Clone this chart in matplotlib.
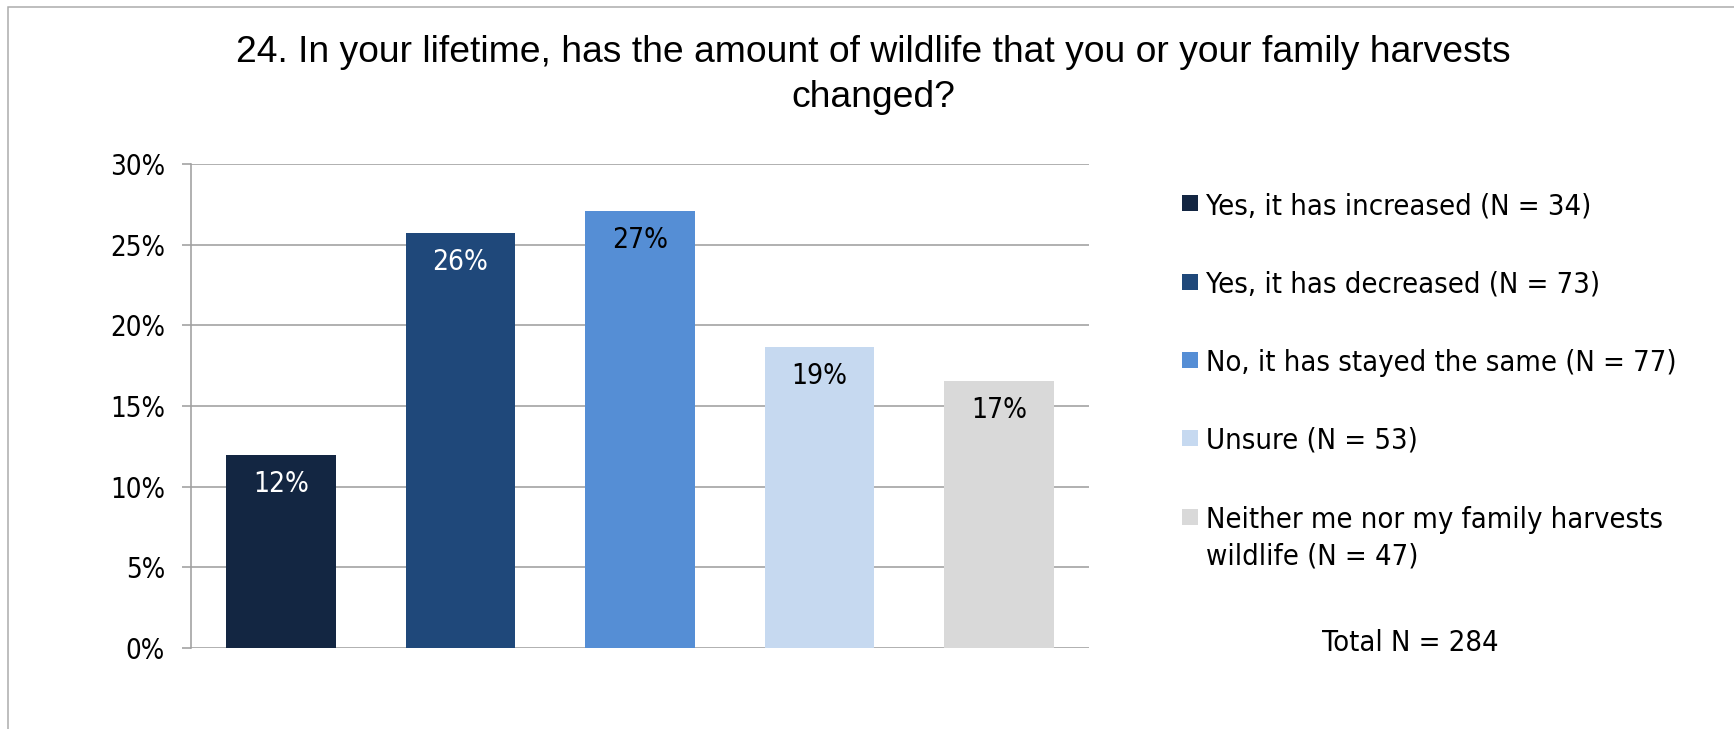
import matplotlib
matplotlib.use("Agg")
import matplotlib.pyplot as plt
from matplotlib.patches import Rectangle
from matplotlib.ticker import PercentFormatter

# Survey responses
categories = [
    "Yes, it has increased",
    "Yes, it has decreased",
    "No, it has stayed the same",
    "Unsure",
    "Neither me nor my family harvests\nwildlife",
]
counts = [34, 73, 77, 53, 47]
total_n = 284
shares = [c / total_n for c in counts]
colors = ["#132642", "#1F487A", "#558ED5", "#C6D9F0", "#D9D9D9"]
label_colors = ["white", "white", "black", "black", "black"]
yticks = [0, 0.05, 0.10, 0.15, 0.20, 0.25, 0.30]

W, H = 1734, 729
DPI = 100
PX = 72 / DPI  # points per pixel

label_font = dict(family="DejaVu Sans", stretch="condensed")
title_font = dict(family="Liberation Sans")

fig = plt.figure(figsize=(W / DPI, H / DPI), dpi=DPI)
fig.patch.set_facecolor("white")

# Outer chart frame (runs past the right and bottom edges)
fig.patches.append(Rectangle((8 / W, -0.1), 1.2, 1 - 7 / H + 0.1,
                             transform=fig.transFigure, fill=False,
                             edgecolor="#ABABAB", linewidth=1.5 * PX))

ax = fig.add_axes([191 / W, 81 / H, 898 / W, 484 / H])
x = list(range(len(counts)))
ax.bar(x, shares, width=0.611, color=colors, zorder=3)
ax.set_xlim(-0.5, len(counts) - 0.5)
ax.set_ylim(0, 0.30)
ax.set_yticks(yticks)
ax.yaxis.set_major_formatter(PercentFormatter(1.0, decimals=0))
ax.set_xticks([])
ax.grid(axis="y", color="#A0A0A0", linewidth=1.6 * PX, zorder=0)
for side in ["top", "right", "bottom"]:
    ax.spines[side].set_visible(False)
ax.spines["left"].set_color("#A0A0A0")
ax.spines["left"].set_linewidth(1.6 * PX)
ax.tick_params(axis="y", length=9 * PX, width=1.6 * PX, color="#A0A0A0",
               pad=17 * PX, labelsize=27.5 * PX, labelcolor="black")
for lbl in ax.get_yticklabels():
    lbl.set_family("DejaVu Sans")
    lbl.set_stretch("condensed")

for xi, v, tc in zip(x, shares, label_colors):
    ax.annotate(f"{v:.0%}", xy=(xi, v), xytext=(0, -29 * PX),
                textcoords="offset points", ha="center", va="center",
                color=tc, fontsize=28 * PX, **label_font)

# Title
fig.text(873 / W, 1 - 62 / H,
         "24. In your lifetime, has the amount of wildlife that you or your family harvests",
         ha="center", va="baseline", fontsize=37.3 * PX, **title_font)
fig.text(873 / W, 1 - 107 / H, "changed?",
         ha="center", va="baseline", fontsize=37.3 * PX, **title_font)

# Legend
row_y = [203, 282, 360, 438, 517]
line_gap = 36
for name, n, col, yc in zip(categories, counts, colors, row_y):
    fig.patches.append(Rectangle((1182 / W, 1 - (yc + 8) / H), 16 / W, 16 / H,
                                 transform=fig.transFigure, facecolor=col,
                                 edgecolor="none"))
    lines = f"{name} (N = {n})".split("\n")
    for k, line in enumerate(lines):
        fig.text(1206 / W, 1 - (yc + 3 + k * line_gap) / H, line, ha="left",
                 va="center", fontsize=29 * PX, **label_font)

fig.text(1410 / W, 1 - 643 / H, f"Total N = {total_n}", ha="center", va="center",
         fontsize=29 * PX, **label_font)

fig.savefig("out.png", dpi=DPI, facecolor="white")
